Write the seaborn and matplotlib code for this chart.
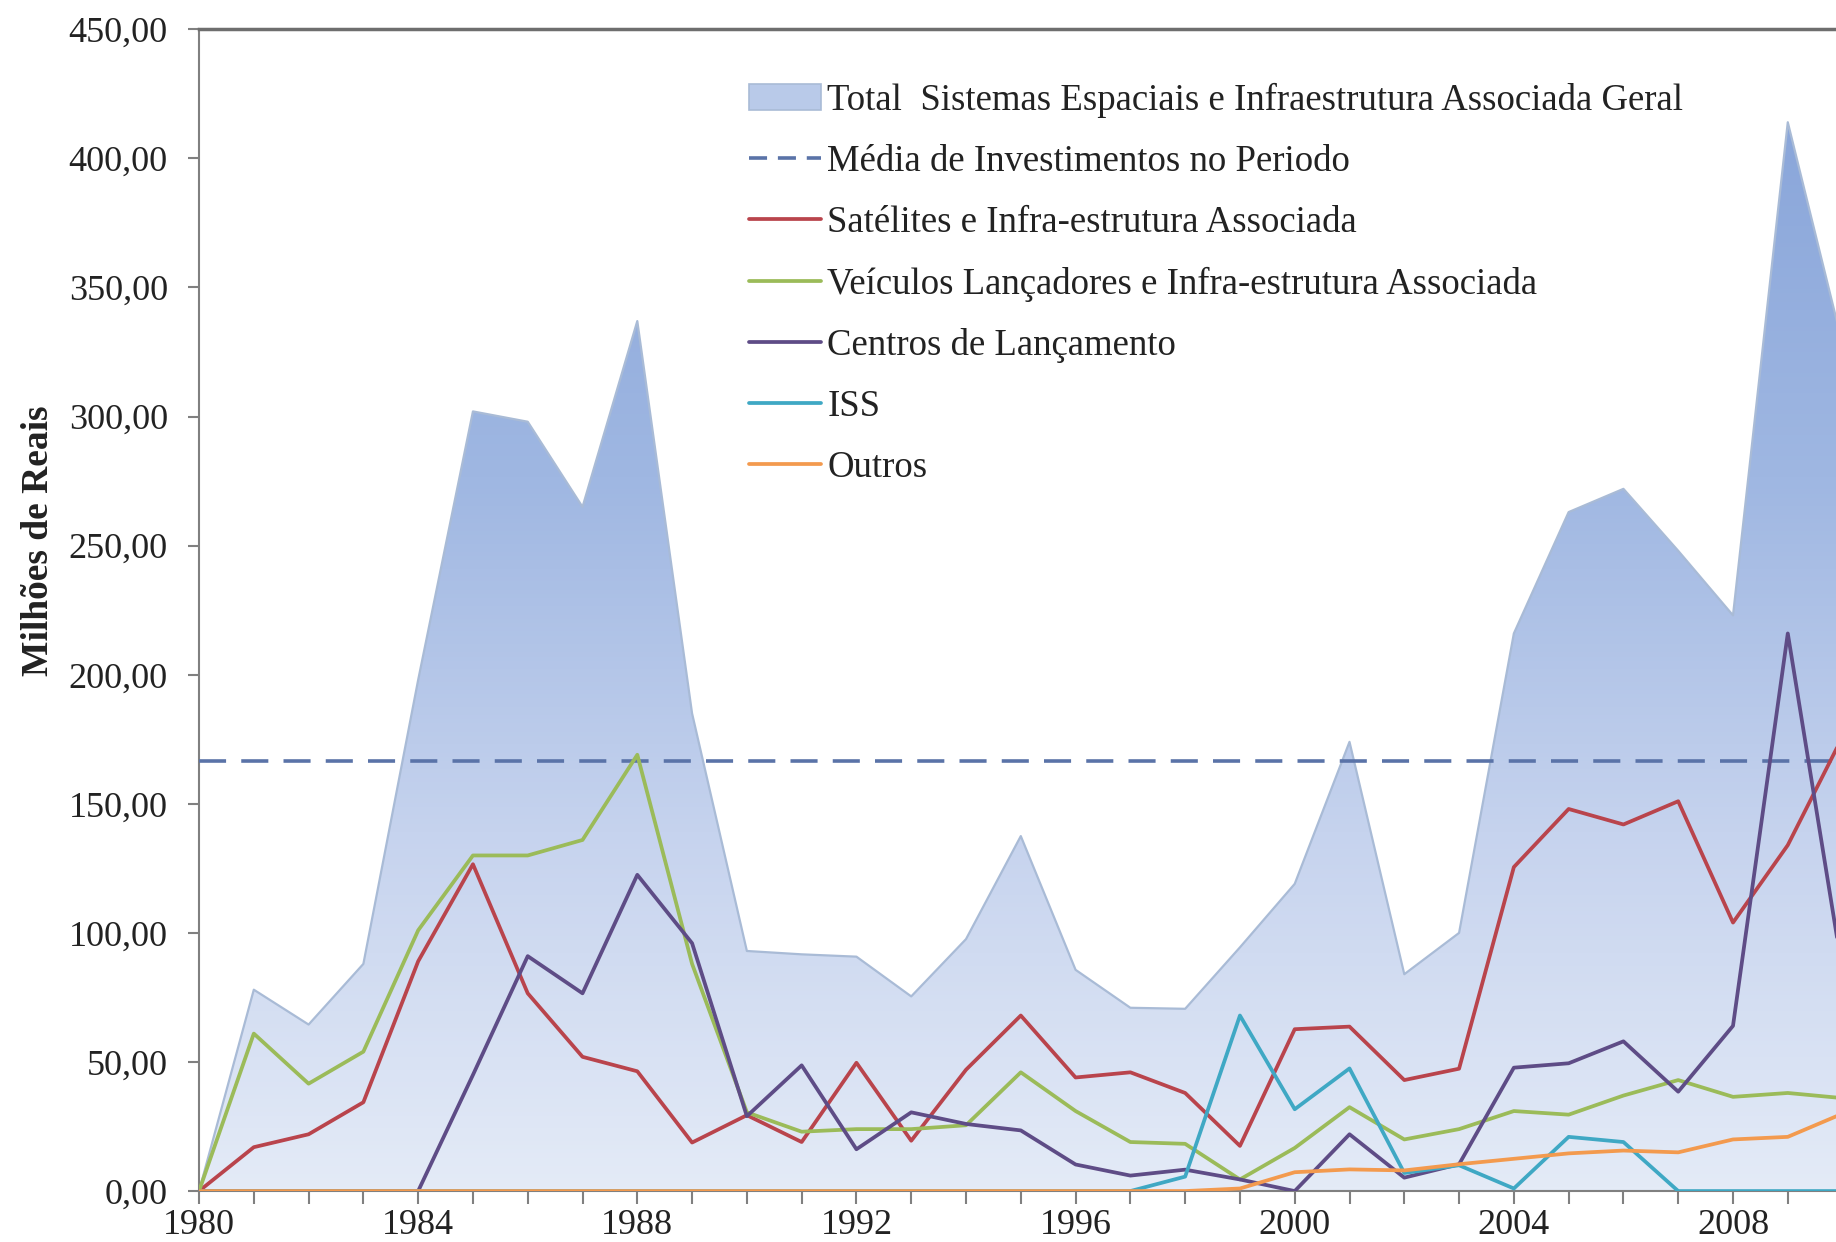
import numpy as np
import pandas as pd
import matplotlib
matplotlib.use('Agg')
import matplotlib.pyplot as plt
import seaborn as sns
from matplotlib.colors import LinearSegmentedColormap
from matplotlib.patches import PathPatch, Patch
from matplotlib.lines import Line2D
from matplotlib.ticker import FuncFormatter, MultipleLocator

# ---------------- data ----------------
years = list(range(1980, 2011))
total = [0, 78, 64.5, 88, 198, 302, 298, 265, 337, 185, 93, 91.7, 90.8, 75.4, 97.6,
         137.5, 85.7, 71, 70.6, 94.4, 119, 174, 84, 100, 216, 263, 272, 248, 223, 414, 328]
satelites = [0, 17, 22, 34.4, 89, 126.6, 76.6, 52, 46.4, 18.8, 29.4, 19, 49.7, 19.5, 47,
             68, 44, 46, 38, 17.5, 62.7, 63.7, 43, 47.4, 125.5, 148, 142, 151, 104, 134, 176]
veiculos = [0, 61, 41.6, 54, 101, 130, 130, 136, 169, 88, 30.5, 23, 24, 24, 25.5,
            46, 31, 19, 18.3, 4.5, 16.7, 32.5, 20, 24, 31, 29.6, 37, 43, 36.5, 38, 36]
centros = [0, 0, 0, 0, 0, 45, 91, 76.6, 122.5, 96, 29, 48.7, 16.2, 30.5, 26,
           23.5, 10.3, 6, 8.3, 4.5, 0, 22, 5.2, 10.4, 47.8, 49.5, 58, 38.5, 64, 216, 85]
iss = [0, 0, 0, 0, 0, 0, 0, 0, 0, 0, 0, 0, 0, 0, 0,
       0, 0, 0, 5.6, 68, 31.7, 47.5, 7, 10, 1, 21, 19, 0, 0, 0, 0]
outros = [0, 0, 0, 0, 0, 0, 0, 0, 0, 0, 0, 0, 0, 0, 0,
          0, 0, 0, 0, 1, 7.3, 8.4, 8, 10.4, 12.5, 14.6, 15.7, 15, 20, 21, 30]
media = 166.5

labels = ["Total  Sistemas Espaciais e Infraestrutura Associada Geral",
          "Média de Investimentos no Periodo",
          "Satélites e Infra-estrutura Associada",
          "Veículos Lançadores e Infra-estrutura Associada",
          "Centros de Lançamento",
          "ISS",
          "Outros"]
y_ticks = list(range(0, 451, 50))
x_major = list(range(1980, 2009, 4))

# ---------------- style ----------------
sns.set_theme(style='white')
plt.rcParams['font.family'] = ['Liberation Serif', 'DejaVu Serif']

c_red = '#b9444c'
c_green = '#9bbb59'
c_purple = '#5e4c86'
c_teal = '#3fa8c4'
c_orange = '#f39a4e'
c_mean = '#5a73a8'
c_edge = '#a9bbd6'

fig = plt.figure(figsize=(18.36, 12.42), dpi=100)
ax = fig.add_axes([0.1084, 0.041, 0.8916, 0.9354])

df = pd.DataFrame({'ano': years, 'total': total, 'sat': satelites, 'vei': veiculos,
                   'cen': centros, 'iss': iss, 'out': outros})

# gradient area
poly = ax.fill_between(df['ano'], 0, df['total'], facecolor='none',
                       edgecolor=c_edge, linewidth=1.6, zorder=2)
path = poly.get_paths()[0]
clip = PathPatch(path, transform=ax.transData, facecolor='none', edgecolor='none')
ax.add_patch(clip)
cmap = LinearSegmentedColormap.from_list('g', ['#e4ebf7', '#c6d3ee', '#9fb7e2', '#8aa6da'])
grad = np.linspace(0, 1, 256).reshape(-1, 1)
im = ax.imshow(grad, extent=[1980, 2010, 0, max(total)], origin='lower',
               aspect='auto', cmap=cmap, zorder=1)
im.set_clip_path(clip)

ax.axhline(media, color=c_mean, linewidth=2.6, dashes=(7.5, 4.2), zorder=3)

lw = 2.7
for col, c in [('sat', c_red), ('vei', c_green), ('cen', c_purple),
               ('iss', c_teal), ('out', c_orange)]:
    sns.lineplot(data=df, x='ano', y=col, color=c, linewidth=lw, ax=ax,
                 legend=False, zorder=4)

ax.set_xlim(1980, 2009.88)
ax.set_ylim(0, 450)

ax.set_xticks(x_major)
ax.set_xticklabels([str(v) for v in x_major])
ax.xaxis.set_minor_locator(MultipleLocator(1))
ax.set_yticks(y_ticks)
ax.yaxis.set_major_formatter(FuncFormatter(lambda v, p: f"{v:.2f}".replace('.', ',')))

ax.tick_params(axis='x', which='both', direction='out', length=9.5, width=1.5,
               color='#808080', bottom=True, labelsize=26, pad=3.5)
ax.tick_params(axis='y', which='major', direction='out', length=8, width=1.5,
               color='#808080', left=True, labelsize=26, pad=14.5)
for lab in ax.get_xticklabels() + ax.get_yticklabels():
    lab.set_color('#222222')

ax.spines['right'].set_visible(False)
ax.spines['left'].set_color('#808080')
ax.spines['left'].set_linewidth(1.5)
ax.spines['bottom'].set_color('#808080')
ax.spines['bottom'].set_linewidth(1.5)
ax.spines['top'].set_color('#6e6e6e')
ax.spines['top'].set_linewidth(2.5)

ax.set_xlabel('')
ax.set_ylabel('Milhões de Reais', fontsize=27, fontweight='bold', color='#222222')
ax.yaxis.set_label_coords(-0.0876, 0.56)

handles = [Patch(facecolor='#b9cae9', edgecolor=c_edge, linewidth=1.2),
           Line2D([], [], color=c_mean, linewidth=2.6, dashes=(5, 3)),
           Line2D([], [], color=c_red, linewidth=lw),
           Line2D([], [], color=c_green, linewidth=lw),
           Line2D([], [], color=c_purple, linewidth=lw),
           Line2D([], [], color=c_teal, linewidth=lw),
           Line2D([], [], color=c_orange, linewidth=lw)]
leg = ax.legend(handles, labels, loc='upper left', bbox_to_anchor=(0.336, 0.954),
                frameon=False, fontsize=26.5, borderpad=0, borderaxespad=0,
                handlelength=1.95, handletextpad=0.18, labelspacing=0.72)
for t in leg.get_texts():
    t.set_color('#222222')

fig.savefig('out.png', dpi=100)
